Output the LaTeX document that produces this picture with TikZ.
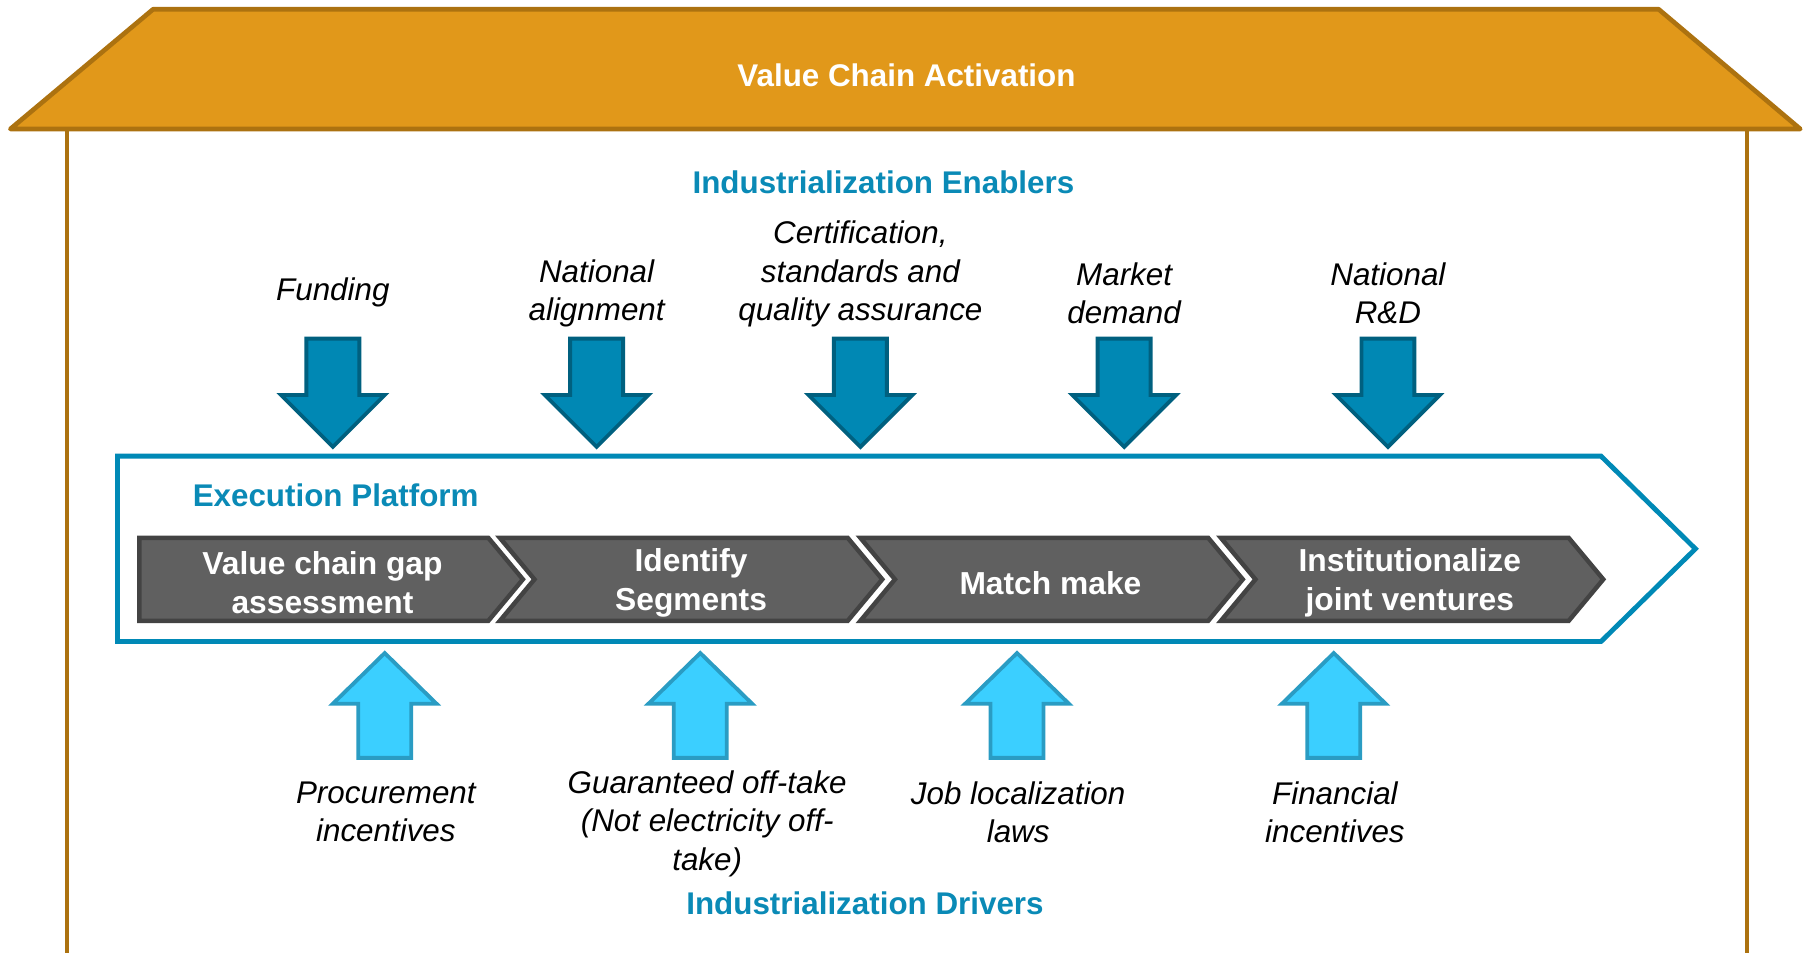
\documentclass[tikz,border=0pt]{standalone}
\usepackage{fontspec}
\setmainfont{Liberation Sans}
\definecolor{roofFill}{HTML}{E1981A}
\definecolor{roofLine}{HTML}{AC7210}
\definecolor{tealText}{HTML}{0A8AB6}
\definecolor{darkArrFill}{HTML}{0088B4}
\definecolor{darkArrLine}{HTML}{00607F}
\definecolor{lightArrFill}{HTML}{3BCFFF}
\definecolor{lightArrLine}{HTML}{2A9CC3}
\definecolor{chevFill}{HTML}{606060}
\definecolor{chevLine}{HTML}{434343}
\definecolor{platLine}{HTML}{0089B6}
\begin{document}
\begin{tikzpicture}[x=0.02cm,y=-0.02cm,
  title/.style={font=\fontsize{15.5}{19}\selectfont\bfseries,text=tealText,inner sep=0pt},
  label/.style={font=\fontsize{15.5}{19}\selectfont\itshape,align=center,inner sep=0pt,text=black},
  chevtext/.style={font=\fontsize{15.7}{19.2}\selectfont\bfseries,align=center,inner sep=0pt,text=white},
  darrow/.style={fill=darkArrFill,draw=darkArrLine,line width=1.9pt,line join=miter},
  uarrow/.style={fill=lightArrFill,draw=lightArrLine,line width=1.9pt,line join=miter},
  chev/.style={fill=chevFill,draw=chevLine,line width=2.2pt,line join=miter},
  pics/downarr/.style={code={
    \draw[darrow] (-23,0) -- (23,0) -- (23,49) -- (45,49) -- (0,94) -- (-45,49) -- (-23,49) -- cycle;}},
  pics/uparr/.style={code={
    \draw[uarrow] (0,0) -- (45,44) -- (23,44) -- (23,91) -- (-23,91) -- (-23,44) -- (-45,44) -- cycle;}}
]
\useasboundingbox (0,0) rectangle (1568,827);

% walls
\draw[roofLine,line width=1.8pt] (58,112) -- (58,827);
\draw[roofLine,line width=1.8pt] (1517,112) -- (1517,827);
% roof
\draw[fill=roofFill,draw=roofLine,line width=2.3pt,line join=round] (133,8) -- (1440,8) -- (1563,112) -- (9,112) -- cycle;
\node[font=\fontsize{15.5}{19}\selectfont\bfseries,text=white,inner sep=0pt] (vca) at (787,65) {Value Chain Activation};

\node[title] (enablers) at (767,158) {Industrialization Enablers};

% top labels
\node[label] (l1) at (289,254) {Funding};
\node[label] (l2) at (518,254.5) {National\\alignment};
\node[label] (l3) at (747,238) {Certification,\\standards and\\quality assurance};
\node[label] (l4) at (976,254.5) {Market\\demand};
\node[label] (l5) at (1205,254.5) {National\\R\&D};

% down arrows
\foreach \x in {289,518,747,976,1205} \pic at (\x,294) {downarr};

% execution platform
\draw[draw=platLine,line width=2.4pt,line join=miter] (102,396) -- (1390,396) -- (1472,476.5) -- (1390,557) -- (102,557) -- cycle;
\node[title,anchor=west] (ep) at (167,430) {Execution Platform};

% chevrons
\draw[chev] (121,467) -- (424,467) -- (454,503) -- (424,539) -- (121,539) -- cycle;
\foreach \x in {434,747,1060} {
  \draw[chev] (\x,467) -- (\x+302,467) -- (\x+332,503) -- (\x+302,539) -- (\x,539) -- (\x+30,503) -- cycle;
}
\node[chevtext] (c1) at (280,506) {Value chain gap\\assessment};
\node[chevtext] (c2) at (600,506) {Identify\\Segments};
\node[chevtext] (c3) at (912,506) {Match make};
\node[chevtext] (c4) at (1224,506) {Institutionalize\\joint ventures};

% up arrows
\foreach \x in {334,608,883,1158} \pic at (\x,567) {uparr};

% bottom labels
\node[label] (b1) at (335,705) {Procurement\\incentives};
\node[label] (b2) at (614,715) {Guaranteed off-take\\(Not electricity off-\\take)};
\node[label] (b3) at (884,705) {Job localization\\laws};
\node[label] (b4) at (1159,705) {Financial\\incentives};

\node[title] (drivers) at (751,784) {Industrialization Drivers};
\end{tikzpicture}
\end{document}
